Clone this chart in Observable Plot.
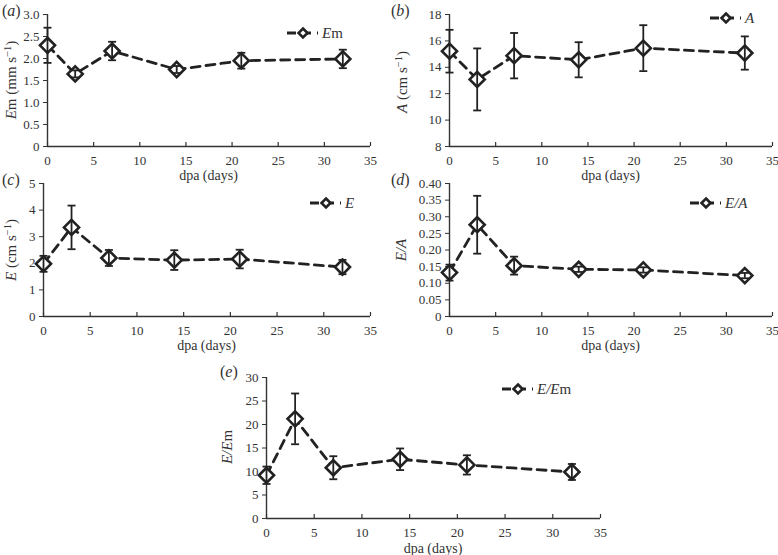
<!DOCTYPE html>
<html><head><meta charset="utf-8">
<script src="https://cdn.jsdelivr.net/npm/d3@7"></script>
<script src="https://cdn.jsdelivr.net/npm/@observablehq/plot@0.6"></script>
<style>
body{margin:0;background:#fff;}
#wrap{position:relative;width:778px;height:555px;overflow:hidden;font-family:"Liberation Serif","Times New Roman",Times,"DejaVu Serif",serif;}
#wrap svg{position:absolute;overflow:visible;background:transparent;}
#wrap svg text{font-family:"Liberation Serif","Times New Roman",Times,"DejaVu Serif",serif;}
</style></head><body><div id="wrap"></div>
<script>
// ---- data ----
const days = [0, 3, 7, 14, 21, 32];
const xTicks = [0, 5, 10, 15, 20, 25, 30, 35];
const emMean = [2.30, 1.65, 2.17, 1.75, 1.95, 1.99];
const emErr  = [0.40, 0.08, 0.21, 0.08, 0.18, 0.21];
const aMean  = [15.22, 13.08, 14.88, 14.57, 15.45, 15.08];
const aErr   = [1.62, 2.35, 1.72, 1.33, 1.74, 1.26];
const eMean  = [1.98, 3.35, 2.20, 2.12, 2.16, 1.86];
const eErr   = [0.30, 0.82, 0.30, 0.37, 0.35, 0.27];
const eaMean = [0.132, 0.276, 0.153, 0.142, 0.140, 0.123];
const eaErr  = [0.024, 0.087, 0.027, 0.008, 0.008, 0.008];
const eemMean = [9.2, 21.2, 10.8, 12.6, 11.4, 9.9];
const eemErr  = [1.85, 5.4, 2.45, 2.3, 2.05, 1.7];
const emTicks = [0, 0.5, 1.0, 1.5, 2.0, 2.5, 3.0];
const aTicks = [8, 10, 12, 14, 16, 18];
const eTicks = [0, 1, 2, 3, 4, 5];
const eaTicks = [0, 0.05, 0.10, 0.15, 0.20, 0.25, 0.30, 0.35, 0.40];
const eemTicks = [0, 5, 10, 15, 20, 25, 30];

const FONT = '"Liberation Serif", "Times New Roman", Times, "DejaVu Serif", serif';
const wrap = document.getElementById("wrap");
const INK = "#222";
const cap = {draw(ctx, size) { const r = Math.sqrt(size / Math.PI); ctx.moveTo(-r, 0); ctx.lineTo(r, 0); }};

function addText(sel, x, y, parts, opts = {}) {
  const t = sel.append("text").attr("x", x).attr("y", y)
    .attr("fill", opts.fill || "#333")
    .attr("font-size", opts.size || 14)
    .attr("text-anchor", opts.anchor || "start")
    .style("font-family", FONT);
  if (opts.rotate) t.attr("transform", `rotate(-90 ${x} ${y})`);
  for (const p of parts) {
    const s = t.append("tspan").text(p.t);
    if (p.i) s.attr("font-style", "italic");
    if (p.sup) s.attr("dy", -5).attr("font-size", (opts.size || 14) * 0.7);
    if (p.down) s.attr("dy", 5);
  }
  return t;
}

function panel(cfg) {
  const data = days.map((d, i) => ({x: d, y: cfg.mean[i], lo: cfg.mean[i] - cfg.err[i], hi: cfg.mean[i] + cfg.err[i]}));
  const innerH = cfg.height - cfg.mT - cfg.mB;
  const svg = Plot.plot({
    width: cfg.width, height: cfg.height,
    marginLeft: cfg.mL, marginRight: cfg.mR, marginTop: cfg.mT, marginBottom: cfg.mB,
    x: {domain: [0, 35]},
    y: {domain: cfg.yDomain},
    style: {fontFamily: FONT, fontSize: "13px", color: "#333", background: "transparent", overflow: "visible"},
    marks: [
      Plot.axisY({ticks: cfg.yTicks, tickSize: 4, tickPadding: 4, tickFormat: cfg.fmt, label: null, stroke: "#333", fill: "#333"}),
      Plot.axisX({ticks: xTicks, tickSize: 0, tickPadding: 9, label: null, fill: "#333"}),
      Plot.tickX(xTicks, {x: d => d, insetTop: innerH - 4, stroke: "#333", strokeWidth: 1.2}),
      Plot.ruleY([cfg.yDomain[0]], {stroke: "#333", strokeWidth: 1.4}),
      Plot.ruleX([0], {stroke: "#333", strokeWidth: 1.4}),
      Plot.line(data, {x: "x", y: "y", stroke: INK, strokeWidth: 2.8, strokeDasharray: "9,6"}),
      Plot.dot(data, {x: "x", y: "y", symbol: "diamond2", r: 6.8, fill: "white", stroke: INK, strokeWidth: 2.6}),
      Plot.ruleX(data, {x: "x", y1: "lo", y2: "hi", stroke: INK, strokeWidth: 1.8}),
      Plot.dot(data, {x: "x", y: "lo", symbol: cap, r: 4, fill: "none", stroke: INK, strokeWidth: 1.8}),
      Plot.dot(data, {x: "x", y: "hi", symbol: cap, r: 4, fill: "none", stroke: INK, strokeWidth: 1.8})
    ]
  });
  svg.style.left = cfg.left + "px";
  svg.style.top = cfg.top + "px";
  wrap.appendChild(svg);
  const s = d3.select(svg);
  s.selectAll("text").style("font-family", FONT);
  // panel tag
  addText(s, cfg.tag[0], cfg.tag[1], [{t: "("}, {t: cfg.tag[2], i: true}, {t: ")"}], {size: 16});
  // y label
  addText(s, cfg.yl[0], cfg.yl[1], cfg.yl[2], {rotate: true, anchor: "middle", size: 15});
  // x label
  addText(s, (cfg.mL + cfg.width - cfg.mR) / 2, cfg.height - cfg.mB + cfg.xlOff, [{t: "dpa (days)"}], {anchor: "middle", size: 14});
  // legend
  const [lx, ly] = cfg.leg;
  const g = s.append("g");
  g.append("line").attr("x1", lx).attr("x2", lx + 31).attr("y1", ly).attr("y2", ly)
    .attr("stroke", INK).attr("stroke-width", 2.8).attr("stroke-dasharray", "9,6");
  const cx = lx + 16, h = 4.5;
  g.append("path").attr("d", `M${cx},${ly - h}L${cx + h},${ly}L${cx},${ly + h}L${cx - h},${ly}Z`)
    .attr("fill", "white").attr("stroke", INK).attr("stroke-width", 2.6);
  addText(s, lx + 35, ly + 5, cfg.legLabel, {size: 15});
}

const f1 = d => d === 0 ? "0" : d.toFixed(1);
const f2 = d => d === 0 ? "0" : d.toFixed(2);
const f0 = d => String(d);

panel({left: 0, top: 0, width: 390, height: 185, mL: 47, mR: 20, mT: 14, mB: 39,
  yDomain: [0, 3], yTicks: emTicks, fmt: f1, mean: emMean, err: emErr,
  tag: [2, 16, "a"], yl: [16, 80, [{t: "E", i: true}, {t: "m (mm s"}, {t: "−1", sup: true}, {t: ")", down: true}]],
  xlOff: 34, leg: [287, 33], legLabel: [{t: "E", i: true}, {t: "m"}]});

panel({left: 390, top: 0, width: 388, height: 185, mL: 59, mR: 6, mT: 14, mB: 39,
  yDomain: [8, 18], yTicks: aTicks, fmt: f0, mean: aMean, err: aErr,
  tag: [1, 16, "b"], yl: [17, 82, [{t: "A", i: true}, {t: " (cm s"}, {t: "−1", sup: true}, {t: ")", down: true}]],
  xlOff: 34, leg: [320, 18], legLabel: [{t: "A", i: true}]});

panel({left: 0, top: 170, width: 390, height: 185, mL: 43, mR: 20, mT: 13, mB: 39,
  yDomain: [0, 5], yTicks: eTicks, fmt: f0, mean: eMean, err: eErr,
  tag: [2, 15, "c"], yl: [16, 80, [{t: "E", i: true}, {t: " (cm s"}, {t: "−1", sup: true}, {t: ")", down: true}]],
  xlOff: 34, leg: [310, 33], legLabel: [{t: "E", i: true}]});

panel({left: 390, top: 170, width: 388, height: 185, mL: 59, mR: 6, mT: 13, mB: 39,
  yDomain: [0, 0.4], yTicks: eaTicks, fmt: f2, mean: eaMean, err: eaErr,
  tag: [1, 15, "d"], yl: [16, 80, [{t: "E/A", i: true}]],
  xlOff: 34, leg: [300, 33], legLabel: [{t: "E/A", i: true}]});

panel({left: 190, top: 365, width: 420, height: 190, mL: 76, mR: 10, mT: 12, mB: 37,
  yDomain: [0, 30], yTicks: eemTicks, fmt: f0, mean: eemMean, err: eemErr,
  tag: [30, 12, "e"], yl: [42, 82, [{t: "E/E", i: true}, {t: "m"}]],
  xlOff: 35, leg: [312, 24], legLabel: [{t: "E/E", i: true}, {t: "m"}]});
</script></body></html>
